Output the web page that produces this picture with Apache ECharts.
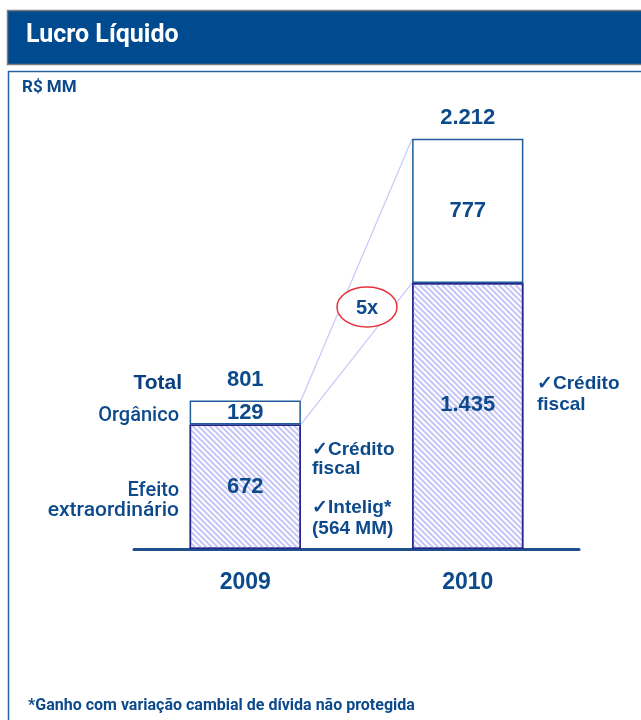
<!DOCTYPE html>
<html>
<head>
<meta charset="utf-8">
<script src="https://cdn.jsdelivr.net/npm/echarts@6/dist/echarts.min.js"></script>
<style>
  html, body { margin: 0; padding: 0; background: #fff; }
  #chart { width: 641px; height: 720px; }
</style>
</head>
<body>
<div id="chart"></div>
<script>
const years = ['2009', '2010']
const extraordinario = [672, 1435]
const organico = [129, 777]
const totals = [801, 2212]
const totalLabels = ['801', '2.212']
const extraLabels = ['672', '1.435']
const organicoLabels = ['129', '777']

const blue = '#0d4a8c'
const hatch = '#c4c4f6'

const chart = echarts.init(document.getElementById('chart'), null, { renderer: 'canvas' })

// connector lines between bar corners (2009 right edge -> 2010 left edge)
const connectors = [
  [0, totals[0], 1, totals[1]],
  [0, extraordinario[0], 1, extraordinario[1]]
]

function renderConnector(params, api) {
  const p0 = api.coord([api.value(0), api.value(1)])
  const p1 = api.coord([api.value(2), api.value(3)])
  const half = api.size([1, 0])[0] * 0.25
  return {
    type: 'line',
    shape: { x1: p0[0] + half, y1: p0[1], x2: p1[0] - half, y2: p1[1] },
    style: { stroke: '#c8c8fa', lineWidth: 1.2 }
  }
}

const labelFont = { fontFamily: 'Liberation Sans', fontWeight: 'bold', color: blue }

chart.setOption({
  backgroundColor: '#fff',
  animation: false,
  grid: { left: 134, right: 62, top: 104, bottom: 171 },
  xAxis: {
    type: 'category',
    data: years,
    axisLine: { lineStyle: { color: '#1f4e8c', width: 3 } },
    axisTick: { show: false },
    axisLabel: { margin: 22, fontSize: 23, ...labelFont }
  },
  yAxis: {
    type: 'value',
    min: 0,
    max: 2400,
    show: false,
    splitLine: { show: false }
  },
  series: [
    {
      type: 'custom',
      renderItem: renderConnector,
      data: connectors,
      z: 1,
      silent: true
    },
    {
      name: 'Efeito extraordinário',
      type: 'bar',
      stack: 'lucro',
      barWidth: '50%',
      data: extraordinario,
      z: 3,
      itemStyle: {
        color: '#fff',
        borderColor: '#24248a',
        borderWidth: 1.5,
        decal: {
          symbol: 'rect',
          dashArrayX: [1, 0],
          dashArrayY: [2, 2],
          rotation: Math.PI / 4,
          color: hatch
        }
      },
      label: {
        show: true,
        position: 'inside',
        fontSize: 22,
        ...labelFont,
        formatter: p => extraLabels[p.dataIndex]
      },
      labelLayout: p => (p.dataIndex === 1 ? { dy: -11 } : {})
    },
    {
      name: 'Orgânico',
      type: 'bar',
      stack: 'lucro',
      barWidth: '50%',
      data: organico,
      z: 3,
      itemStyle: { color: '#fff', borderColor: '#1f5c99', borderWidth: 1.5 },
      label: {
        show: true,
        position: 'inside',
        fontSize: 22,
        ...labelFont,
        formatter: p => organicoLabels[p.dataIndex]
      }
    },
    {
      name: 'Total',
      type: 'scatter',
      data: totals,
      symbolSize: 2,
      itemStyle: { color: 'rgba(0,0,0,0)', opacity: 1 },
      z: 4,
      silent: true,
      label: {
        show: true,
        position: 'top',
        distance: 9,
        fontSize: 22,
        ...labelFont,
        formatter: p => totalLabels[p.dataIndex]
      }
    }
  ],
  graphic: [
    {
      type: 'rect',
      shape: { x: 7.5, y: 10.5, width: 640, height: 54 },
      style: { fill: '#004a8f', stroke: '#7d7d7d', lineWidth: 1.5 },
      z: 10
    },
    {
      type: 'text',
      left: 26,
      top: 23,
      style: { text: 'Lucro Líquido', fill: '#fff', font: 'bold 25px Roboto' },
      z: 11
    },
    {
      type: 'rect',
      shape: { x: 8.5, y: 71.5, width: 660, height: 700 },
      style: { fill: 'none', stroke: '#2a62a6', lineWidth: 1.5 },
      z: 10
    },
    {
      type: 'text',
      left: 22,
      top: 79,
      style: { text: 'R$ MM', fill: blue, font: 'bold 17px Roboto' },
      z: 11
    },
    {
      type: 'text',
      x: 182,
      y: 373,
      style: { text: 'Total', fill: '#0a3f80', font: 'bold 21px "Liberation Sans"', align: 'right' },
      z: 11
    },
    {
      type: 'text',
      x: 179,
      y: 406,
      style: { text: 'Orgânico', fill: blue, font: '500 20px Roboto', align: 'right' },
      z: 11
    },
    {
      type: 'text',
      x: 179,
      y: 481,
      style: { text: 'Efeito', fill: blue, font: '500 20px Roboto', align: 'right' },
      z: 11
    },
    {
      type: 'text',
      x: 179,
      y: 500,
      style: { text: 'extraordinário', fill: blue, font: '500 21px Roboto', align: 'right' },
      z: 11
    },
    {
      type: 'text',
      left: 312,
      top: 440,
      style: { text: '✓Crédito\nfiscal', fill: blue, font: 'bold 19px "Liberation Sans"', lineHeight: 19 },
      z: 11
    },
    {
      type: 'text',
      left: 312,
      top: 497,
      style: { text: '✓Intelig*\n(564 MM)', fill: blue, font: 'bold 19px "Liberation Sans"', lineHeight: 21 },
      z: 11
    },
    {
      type: 'text',
      left: 537,
      top: 373,
      style: { text: '✓Crédito\nfiscal', fill: blue, font: 'bold 19px "Liberation Sans"', lineHeight: 21 },
      z: 11
    },
    {
      type: 'ellipse',
      shape: { cx: 367, cy: 307, rx: 30, ry: 20 },
      style: { fill: '#fff', stroke: '#e8323c', lineWidth: 1.5 },
      z: 11
    },
    {
      type: 'text',
      x: 367,
      y: 308,
      style: { text: '5x', fill: blue, font: 'bold 20px "Liberation Sans"', align: 'center', verticalAlign: 'middle' },
      z: 12
    },
    {
      type: 'text',
      left: 28,
      top: 698,
      style: { text: '*Ganho com variação cambial de dívida não protegida', fill: blue, font: 'bold 16px Roboto' },
      z: 11
    }
  ]
})
</script>
</body>
</html>
